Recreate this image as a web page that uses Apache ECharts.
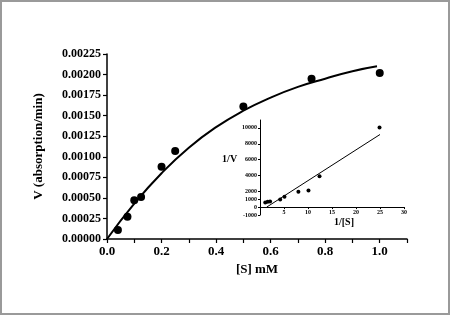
<!DOCTYPE html>
<html>
<head>
<meta charset="utf-8">
<script src="https://cdn.jsdelivr.net/npm/echarts@6/dist/echarts.min.js"></script>
<style>html,body{margin:0;padding:0;background:#fff}#c{width:450px;height:315px}</style>
</head>
<body>
<div id="c"></div>
<script>
// Main plot: V vs [S]
const substrateMM = [0.04, 0.075, 0.1, 0.125, 0.2, 0.25, 0.5, 0.75, 1.0];
const velocity = [0.00011, 0.00027, 0.00047, 0.00051, 0.00088, 0.00107, 0.00161, 0.00195, 0.00202];
// Fitted curve
const fitS = [0, 0.1, 0.2, 0.3, 0.4, 0.5, 0.6, 0.7, 0.8, 0.9, 0.99];
const fitV = [0, 0.00043, 0.00080, 0.00111, 0.00136, 0.00156, 0.00172, 0.00185, 0.00195, 0.00204, 0.00210];
// Inset: Lineweaver-Burk
const invS = [1.1, 1.6, 2.1, 4.2, 5.1, 8.0, 10.1, 12.4, 24.9];
const invV = [590, 670, 720, 970, 1300, 1950, 2100, 3900, 10050];
const lineInvS = [1.4, 25];
const lineInvV = [0, 9170];
const insetYTicks = [-1000, 0, 1000, 2000, 4000, 6000, 8000, 10000];

const serif = 'Liberation Serif';
const chart = echarts.init(document.getElementById('c'), null, {renderer: 'canvas'});
const zip = (a, b) => a.map((v, i) => [v, b[i]]);

const insetTop = 120, insetBottom = 100;
const insetYMin = -1000, insetYMax = 11000;
const insetH = 315 - insetTop - insetBottom;
const zeroOffset = -insetH * (0 - insetYMin) / (insetYMax - insetYMin);

chart.setOption({
  animation: false,
  backgroundColor: '#fff',
  graphic: [{
    type: 'rect', shape: {x: 1, y: 1, width: 448, height: 313},
    style: {fill: 'none', stroke: '#9a9a9a', lineWidth: 2}, z: 100
  }],
  grid: [
    {left: 107, right: 43, top: 54, bottom: 76},
    {left: 260, right: 46, top: insetTop, bottom: insetBottom}
  ],
  xAxis: [{
    gridIndex: 0, type: 'value', min: 0, max: 1.1, interval: 0.1,
    splitLine: {show: false},
    axisLine: {lineStyle: {color: '#000', width: 1.5}},
    axisTick: {length: 4, lineStyle: {color: '#000', width: 1.2}},
    axisLabel: {
      color: '#000', fontFamily: serif, fontWeight: 'bold', fontSize: 13, margin: 6,
      formatter: v => (Math.round(v * 10) % 2 === 0 && v < 1.05) ? v.toFixed(1) : ''
    },
    name: '[S] mM', nameLocation: 'middle', nameGap: 21,
    nameTextStyle: {color: '#000', fontFamily: serif, fontWeight: 'bold', fontSize: 13}
  }, {
    gridIndex: 1, type: 'value', min: 0, max: 30, interval: 5,
    offset: zeroOffset,
    splitLine: {show: false},
    axisLine: {onZero: false, lineStyle: {color: '#000', width: 1}},
    axisTick: {length: 2, lineStyle: {color: '#000', width: 1}},
    axisLabel: {
      color: '#000', fontFamily: serif, fontWeight: 'bold', fontSize: 6, margin: 2,
      formatter: v => v === 0 ? '' : String(v)
    },
    name: '1/[S]', nameLocation: 'middle', nameGap: 10,
    nameTextStyle: {color: '#000', fontFamily: serif, fontWeight: 'bold', fontSize: 10, padding: [0, 0, 0, 24]}
  }],
  yAxis: [{
    gridIndex: 0, type: 'value', min: 0, max: 0.00225, interval: 0.00025,
    splitLine: {show: false},
    axisLine: {show: true, lineStyle: {color: '#000', width: 1.5}},
    axisTick: {show: true, length: 4, lineStyle: {color: '#000', width: 1.2}},
    axisLabel: {
      color: '#000', fontFamily: serif, fontWeight: 'bold', fontSize: 12, margin: 6,
      formatter: v => v.toFixed(5)
    },
    name: 'V (absorption/min)', nameLocation: 'middle', nameGap: 62,
    nameTextStyle: {color: '#000', fontFamily: serif, fontWeight: 'bold', fontSize: 13}
  }, {
    gridIndex: 1, type: 'value', min: insetYMin, max: insetYMax,
    splitLine: {show: false},
    axisLine: {show: true, onZero: false, lineStyle: {color: '#000', width: 1}},
    axisTick: {show: true, length: 2, customValues: insetYTicks, lineStyle: {color: '#000', width: 1}},
    axisLabel: {
      color: '#000', fontFamily: serif, fontWeight: 'bold', fontSize: 6, margin: 3,
      customValues: insetYTicks, formatter: v => String(v)
    },
    name: '1/V', nameLocation: 'middle', nameGap: 22, nameRotate: 0,
    nameTextStyle: {color: '#000', fontFamily: serif, fontWeight: 'bold', fontSize: 10,
      verticalAlign: 'bottom', padding: [0, 0, 3, 0]}
  }],
  series: [{
    type: 'line', xAxisIndex: 0, yAxisIndex: 0, data: zip(fitS, fitV),
    smooth: 0.5, showSymbol: false, lineStyle: {color: '#000', width: 2}, z: 3
  }, {
    type: 'scatter', xAxisIndex: 0, yAxisIndex: 0, data: zip(substrateMM, velocity),
    symbolSize: 8, itemStyle: {color: '#000', opacity: 1}, z: 4
  }, {
    type: 'line', xAxisIndex: 1, yAxisIndex: 1, data: zip(lineInvS, lineInvV),
    showSymbol: false, lineStyle: {color: '#000', width: 1}, z: 3
  }, {
    type: 'scatter', xAxisIndex: 1, yAxisIndex: 1, data: zip(invS, invV),
    symbolSize: 4, itemStyle: {color: '#000', opacity: 1}, z: 4
  }]
});
</script>
</body>
</html>
